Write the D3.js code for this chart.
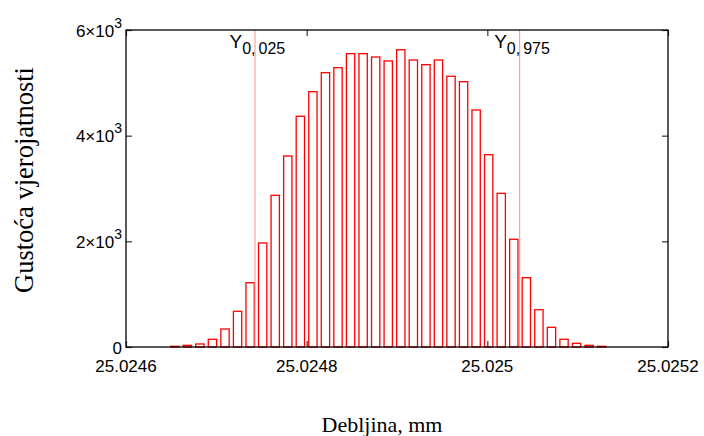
<!DOCTYPE html>
<html>
<head>
<meta charset="utf-8">
<script src="https://cdn.jsdelivr.net/npm/d3@7"></script>
<style>
  html, body { margin: 0; padding: 0; background: #fff; }
  svg { display: block; }
</style>
</head>
<body>
<svg id="chart" width="704" height="436"></svg>
<script>
// ---- data ----
const binCenters = [
  25.0246540, 25.0246679, 25.0246818, 25.0246957, 25.0247096, 25.0247235, 25.0247374,
  25.0247513, 25.0247652, 25.0247791, 25.0247930, 25.0248069, 25.0248208, 25.0248347,
  25.0248486, 25.0248625, 25.0248764, 25.0248903, 25.0249042, 25.0249181, 25.0249320,
  25.0249459, 25.0249598, 25.0249737, 25.0249876, 25.0250015, 25.0250154, 25.0250293,
  25.0250432, 25.0250571, 25.0250710, 25.0250849, 25.0250988, 25.0251127, 25.0251266
];
const density = [
  13, 32, 57, 146, 341, 676, 1217,
  1969, 2871, 3615, 4367, 4833, 5192, 5287,
  5552, 5552, 5489, 5414, 5627, 5432, 5344,
  5432, 5124, 5022, 4486, 3640, 2909, 2039,
  1312, 706, 373, 146, 70, 32, 13
];
const binWidth = 0.0000092;          // drawn bar width in mm
const quantiles = [25.0247428, 25.0250358];
const quantileLabels = [["Y", "0,", "025"], ["Y", "0,", "975"]];
const xTicks = [25.0246, 25.0248, 25.025, 25.0252];
const xTickLabels = ["25.0246", "25.0248", "25.025", "25.0252"];
const yTicks = [0, 2000, 4000, 6000];
const yTickMant = ["0", "2×10", "4×10", "6×10"];
const yTickExp = ["", "3", "3", "3"];
const xTitle = "Debljina, mm";
const yTitle = "Gustoća vjerojatnosti";

// ---- layout ----
const W = 704, H = 436;
const m = { left: 126, right: 36, top: 30, bottom: 89 };
const iw = W - m.left - m.right, ih = H - m.top - m.bottom;

const svg = d3.select("#chart");
const g = svg.append("g").attr("transform", `translate(${m.left},${m.top})`);

const x = d3.scaleLinear().domain([25.0246, 25.0252]).range([0, iw]);
const y = d3.scaleLinear().domain([0, 6000]).range([ih, 0]);

const sans = "'Liberation Sans', Arial, sans-serif";
const serif = "'Liberation Serif', 'Times New Roman', serif";

// bars
g.append("g").selectAll("rect").data(density).join("rect")
  .attr("x", (d, i) => x(binCenters[i] - binWidth / 2))
  .attr("width", (d, i) => x(binCenters[i] + binWidth / 2) - x(binCenters[i] - binWidth / 2))
  .attr("y", d => y(d))
  .attr("height", d => y(0) - y(d))
  .attr("fill", "#ffffff")
  .attr("stroke", "#ff0000")
  .attr("stroke-width", 1.3);

// quantile lines
g.append("g").selectAll("line").data(quantiles).join("line")
  .attr("x1", d => x(d)).attr("x2", d => x(d))
  .attr("y1", 0).attr("y2", ih)
  .attr("stroke", "#ff8c8c").attr("stroke-width", 1);

// quantile labels
quantiles.forEach((q, i) => {
  const t = g.append("text")
    .attr("x", x(q) - 25.5).attr("y", 48.3 - m.top)
    .attr("font-family", sans).attr("fill", "#000");
  t.append("tspan").attr("font-size", 19).text(quantileLabels[i][0]);
  t.append("tspan").attr("font-size", 16).attr("dy", 5.5).text(quantileLabels[i][1]);
  t.append("tspan").attr("font-size", 16).attr("dx", 3).text(quantileLabels[i][2]);
});

// axes (inward ticks)
const xAxisB = d3.axisBottom(x).tickValues(xTicks).tickSize(-6).tickSizeOuter(0).tickFormat("");
const xAxisT = d3.axisTop(x).tickValues(xTicks).tickSize(-6).tickSizeOuter(0).tickFormat("");
const yAxisL = d3.axisLeft(y).tickValues(yTicks).tickSize(-6).tickSizeOuter(0).tickFormat("");
const yAxisR = d3.axisRight(y).tickValues(yTicks).tickSize(-6).tickSizeOuter(0).tickFormat("");

function styleAxis(sel) {
  sel.select(".domain").remove();
  sel.selectAll(".tick line").attr("stroke", "#333").attr("stroke-width", 1.2);
}
g.append("g").attr("transform", `translate(0,${ih})`).call(xAxisB).call(styleAxis);
g.append("g").call(xAxisT).call(styleAxis);
g.append("g").call(yAxisL).call(styleAxis);
g.append("g").attr("transform", `translate(${iw},0)`).call(yAxisR).call(styleAxis);

// box
g.append("rect").attr("x", 0).attr("y", 0).attr("width", iw).attr("height", ih)
  .attr("fill", "none").attr("stroke", "#000").attr("stroke-width", 1.3);

// x tick labels
g.append("g").selectAll("text").data(xTicks).join("text")
  .attr("x", d => x(d)).attr("y", ih + 25)
  .attr("text-anchor", "middle")
  .attr("font-family", sans).attr("font-size", 17).attr("fill", "#000")
  .text((d, i) => xTickLabels[i]);

// y tick labels
yTicks.forEach((v, i) => {
  const t = g.append("text")
    .attr("x", -4).attr("y", y(v) + 6.5)
    .attr("text-anchor", "end")
    .attr("font-family", sans).attr("fill", "#000");
  t.append("tspan").attr("font-size", 17).text(yTickMant[i]);
  if (yTickExp[i]) t.append("tspan").attr("font-size", 14).attr("dy", -9).text(yTickExp[i]);
});

// titles
svg.append("text")
  .attr("x", m.left + iw / 2 - 15).attr("y", 432)
  .attr("text-anchor", "middle")
  .attr("font-family", serif).attr("font-size", 22).attr("fill", "#000")
  .text(xTitle);

svg.append("text")
  .attr("transform", `translate(33,180) rotate(-90)`)
  .attr("text-anchor", "middle")
  .attr("font-family", serif).attr("font-size", 26.5).attr("fill", "#000")
  .text(yTitle);
</script>
</body>
</html>
